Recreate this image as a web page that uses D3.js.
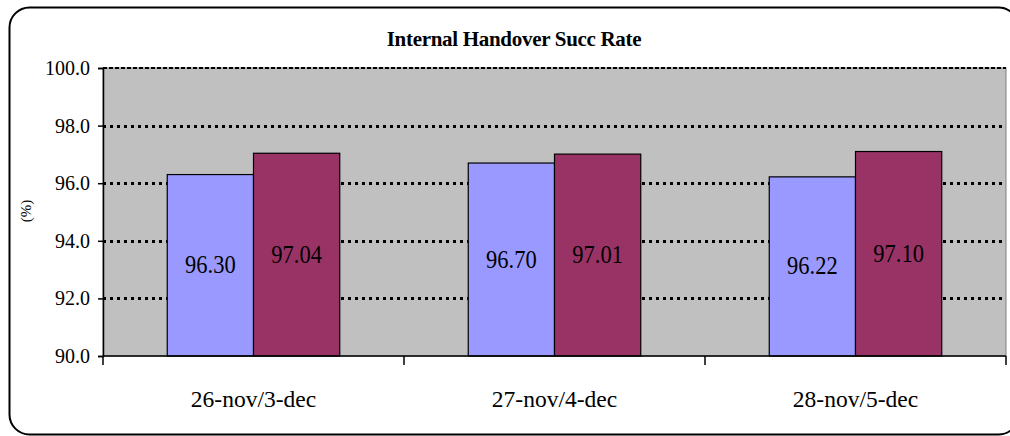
<!DOCTYPE html>
<html>
<head>
<meta charset="utf-8">
<script src="https://cdn.jsdelivr.net/npm/d3@7"></script>
<style>
  html, body { margin: 0; padding: 0; background: #fff; }
  svg { display: block; }
  text { font-family: "Liberation Serif", "Times New Roman", serif; fill: #000; }
</style>
</head>
<body>
<svg id="chart" width="1010" height="436"></svg>
<script>
// Weekly internal handover success rate (%), two weeks compared per weekday
const categories = ["26-nov/3-dec", "27-nov/4-dec", "28-nov/5-dec"];
const seriesNames = ["week1", "week2"];
const week1 = [96.30, 96.70, 96.22];
const week2 = [97.04, 97.01, 97.10];
const seriesColors = ["#9999FF", "#993366"];
const yTicks = [90, 92, 94, 96, 98, 100];
const titleText = "Internal Handover Succ Rate";
const yLabel = "(%)";

const rows = categories.map((c, i) => ({ cat: c, values: [week1[i], week2[i]] }));

const svg = d3.select("#chart");
const plot = { left: 103, right: 1006, top: 68, bottom: 356 };

// Outer rounded frame
svg.append("rect")
  .attr("x", 9.5).attr("y", 7.5)
  .attr("width", 1009).attr("height", 427)
  .attr("rx", 20).attr("ry", 20)
  .attr("fill", "#fff").attr("stroke", "#000").attr("stroke-width", 2);

const x0 = d3.scaleBand().domain(categories).range([plot.left, plot.right]).padding(0);
const x1 = d3.scaleBand().domain(seriesNames).range([0, x0.bandwidth()])
  .paddingInner(0).paddingOuter(0.745);
const y = d3.scaleLinear().domain([90, 100]).range([plot.bottom, plot.top]);

// Plot area
svg.append("rect")
  .attr("x", plot.left).attr("y", plot.top)
  .attr("width", plot.right - plot.left).attr("height", plot.bottom - plot.top)
  .attr("fill", "#C0C0C0").attr("stroke", "#808080").attr("stroke-width", 1);

// Gridlines
const grid = svg.append("g");
grid.selectAll("line.dot")
  .data(yTicks.filter(t => t > 90 && t < 100))
  .join("line")
  .attr("x1", plot.left).attr("x2", plot.right)
  .attr("y1", d => Math.round(y(d)) + 0.5).attr("y2", d => Math.round(y(d)) + 0.5)
  .attr("stroke", "#000").attr("stroke-width", 3)
  .attr("stroke-dasharray", "3,4");
grid.append("line")
  .attr("x1", plot.left).attr("x2", plot.right)
  .attr("y1", y(100)).attr("y2", y(100))
  .attr("stroke", "#000").attr("stroke-width", 2)
  .attr("stroke-dasharray", "4,2");

// Bars
const groups = svg.append("g").selectAll("g")
  .data(rows).join("g")
  .attr("transform", d => `translate(${x0(d.cat)},0)`);

groups.selectAll("rect")
  .data(d => d.values.map((v, i) => ({ v, s: seriesNames[i], i })))
  .join("rect")
  .attr("x", d => x1(d.s))
  .attr("y", d => y(d.v))
  .attr("width", x1.bandwidth())
  .attr("height", d => y(90) - y(d.v))
  .attr("fill", d => seriesColors[d.i])
  .attr("stroke", "#000").attr("stroke-width", 1.2);

// Value labels, centred in each bar
groups.selectAll("g.lbl")
  .data(d => d.values.map((v, i) => ({ v, s: seriesNames[i], i })))
  .join("g")
  .attr("transform", d => `translate(${x1(d.s) + x1.bandwidth() / 2},${(y(d.v) + y(90)) / 2 + 8}) scale(0.9,1)`)
  .append("text")
  .attr("text-anchor", "middle")
  .attr("font-size", 25)
  .text(d => d.v.toFixed(2));

// Y axis
const yAxis = d3.axisLeft(y).tickValues(yTicks).tickSize(5).tickPadding(8)
  .tickFormat(d3.format(".1f"));
const gy = svg.append("g").attr("transform", `translate(${plot.left},0)`).call(yAxis);
gy.select(".domain").attr("stroke", "#000").attr("stroke-width", 1.5);
gy.selectAll(".tick line").attr("stroke", "#000").attr("stroke-width", 1.5);
gy.selectAll(".tick text")
  .attr("font-family", "Liberation Serif, serif")
  .attr("font-size", 20).attr("fill", "#000");

// X axis with tick marks on category boundaries
const xAxisLine = svg.append("g");
xAxisLine.append("line")
  .attr("x1", plot.left).attr("x2", plot.right)
  .attr("y1", plot.bottom).attr("y2", plot.bottom)
  .attr("stroke", "#000").attr("stroke-width", 1.5);
const boundaries = categories.map(c => x0(c)).concat([x0(categories[categories.length - 1]) + x0.bandwidth()]);
xAxisLine.selectAll("line.tk").data(boundaries).join("line")
  .attr("x1", d => d).attr("x2", d => d)
  .attr("y1", plot.bottom).attr("y2", plot.bottom + 9)
  .attr("stroke", "#000").attr("stroke-width", 1.5);

svg.append("g").selectAll("text")
  .data(categories).join("text")
  .attr("x", d => x0(d) + x0.bandwidth() / 2)
  .attr("y", 407)
  .attr("text-anchor", "middle")
  .attr("font-size", 23.5)
  .text(d => d);

// Title
svg.append("text")
  .attr("x", 514).attr("y", 46)
  .attr("text-anchor", "middle")
  .attr("font-size", 21).attr("font-weight", "bold")
  .attr("letter-spacing", -0.3)
  .text(titleText);

// Y axis label
svg.append("text")
  .attr("transform", "translate(31,211) rotate(-90)")
  .attr("text-anchor", "middle")
  .attr("font-size", 15)
  .text(yLabel);
</script>
</body>
</html>
